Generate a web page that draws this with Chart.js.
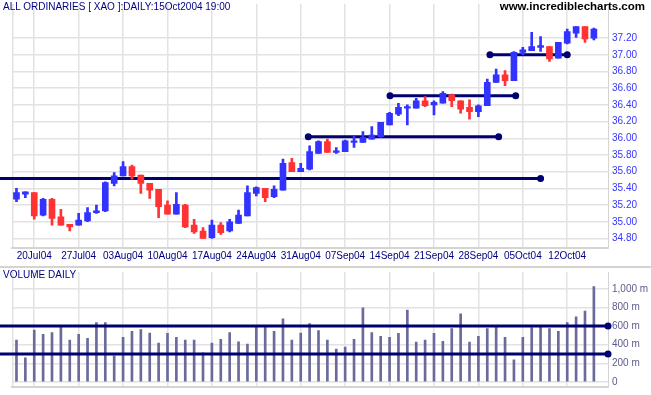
<!DOCTYPE html>
<html>
<head>
<meta charset="utf-8">
<script src="https://cdn.jsdelivr.net/npm/chart.js@4.4.1/dist/chart.umd.min.js"></script>
<style>
  body { margin:0; background:#fff; width:651px; height:395px; overflow:hidden; position:relative; font-family:"Liberation Sans", Arial, sans-serif; }
  #pricebox { position:absolute; left:0; top:0; width:651px; height:266px; }
  #volbox { position:absolute; left:0; top:266px; width:651px; height:127px; border-top:2px solid #d6d3ce; }
  .lbl { position:absolute; font-size:10px; color:#000080; white-space:nowrap; }
</style>
</head>
<body>
<div id="pricebox"><canvas id="price" width="651" height="266"></canvas></div>
<div id="volbox"><canvas id="vol" width="651" height="127"></canvas></div>
<div class="lbl" style="left:3px;top:1px">ALL ORDINARIES [ XAO ]:DAILY:15Oct2004 19:00</div>
<div class="lbl" style="right:6px;top:0px;font-weight:bold;font-size:11.5px;color:#000">www.incrediblecharts.com</div>
<div class="lbl" style="left:3px;top:269px">VOLUME DAILY</div>
<script>
const dates = ['16Jul04',
  '19Jul04','20Jul04','21Jul04','22Jul04','23Jul04',
  '26Jul04','27Jul04','28Jul04','29Jul04','30Jul04',
  '02Aug04','03Aug04','04Aug04','05Aug04','06Aug04',
  '09Aug04','10Aug04','11Aug04','12Aug04','13Aug04',
  '16Aug04','17Aug04','18Aug04','19Aug04','20Aug04',
  '23Aug04','24Aug04','25Aug04','26Aug04','27Aug04',
  '30Aug04','31Aug04','01Sep04','02Sep04','03Sep04',
  '06Sep04','07Sep04','08Sep04','09Sep04','10Sep04',
  '13Sep04','14Sep04','15Sep04','16Sep04','17Sep04',
  '20Sep04','21Sep04','22Sep04','23Sep04','24Sep04',
  '27Sep04','28Sep04','29Sep04','30Sep04','01Oct04',
  '04Oct04','05Oct04','06Oct04','07Oct04','08Oct04',
  '11Oct04','12Oct04','13Oct04','14Oct04','15Oct04']

const open = [35.27, 35.33,35.35,35.08,35.27,35.06, 34.97,34.96,35.01,35.11,35.13,
  35.46,35.55,35.66,35.56,35.46, 35.39,35.20,35.09,35.20,34.96, 34.89,34.81,34.96,34.89,34.98,
  35.07,35.34,35.40,35.30,35.38, 35.71,35.60,35.63,35.82,35.96, 35.83,35.84,35.95,35.95,35.99,
  36.02,36.16,36.29,36.36,36.36, 36.45,36.40,36.42,36.52,36.45, 36.37,36.32,36.39,36.67,36.76,
  36.69,37.03,37.05,37.09,37.10, 36.96,37.14,37.26,37.34,37.20]
const high = [35.40, 35.36,35.35,35.28,35.28,35.15, 34.97,35.10,35.17,35.20,35.48,
  35.59,35.72,35.68,35.56,35.46, 35.39,35.25,35.35,35.21,35.03, 34.93,35.02,34.99,35.03,35.14,
  35.43,35.42,35.40,35.43,35.75, 35.76,35.70,35.91,35.97,35.99, 35.89,35.98,36.03,36.08,36.14,
  36.19,36.31,36.42,36.40,36.48, 36.50,36.45,36.56,36.53,36.45, 36.46,36.40,36.71,36.83,36.81,
  37.04,37.09,37.27,37.22,37.10, 37.15,37.31,37.34,37.34,37.32]
const low = [35.24, 35.29,35.03,35.07,34.96,34.96, 34.89,34.96,35.00,35.10,35.12,
  35.43,35.55,35.51,35.34,35.28, 35.05,35.09,35.09,34.93,34.86, 34.80,34.80,34.85,34.88,34.98,
  35.07,35.31,35.24,35.29,35.38, 35.60,35.60,35.62,35.82,35.83, 35.82,35.84,35.89,35.95,35.99,
  36.01,36.16,36.27,36.16,36.36, 36.38,36.28,36.42,36.38,36.30, 36.23,36.26,36.39,36.67,36.63,
  36.69,37.00,37.05,37.04,36.92, 36.96,37.13,37.21,37.15,37.18]
const close = [35.35, 35.36,35.07,35.27,35.04,34.96, 34.94,35.02,35.11,35.13,35.47,
  35.55,35.66,35.55,35.46,35.38, 35.18,35.09,35.21,34.94,34.88, 34.80,34.96,34.87,35.00,35.08,
  35.35,35.41,35.29,35.39,35.70, 35.60,35.64,35.84,35.96,35.83, 35.85,35.97,35.97,36.01,36.04,
  36.19,36.30,36.37,36.38,36.45, 36.39,36.43,36.54,36.45,36.35, 36.32,36.39,36.67,36.76,36.69,
  37.03,37.06,37.10,37.11,36.95, 37.15,37.28,37.34,37.19,37.31]

// millions
const volume = [448, 259,556,510,531,608, 448,510,468,636,636,
  280,479,542,563,524, 416,521,479,448,448, 311,416,458,531,430,
  406,594,594,542,678, 448,524,626,552,448, 353,374,458,797,531,
  490,479,521,772,427, 448,521,437,573,731, 427,490,573,605,479,
  238,479,584,605,573, 542,636,699,762,1024]

const dateTicks = ['20Jul04','27Jul04','03Aug04','10Aug04','17Aug04','24Aug04','31Aug04',
  '07Sep04','14Sep04','21Sep04','28Sep04','05Oct04','12Oct04']
const priceTicks = [34.8,35.0,35.2,35.4,35.6,35.8,36.0,36.2,36.4,36.6,36.8,37.0,37.2]
const volumeTicks = [0,200,400,600,800,1000]

// horizontal trend lines, start/end in bar index (null = from left edge)
const lineLevels = [35.52, 36.02, 36.51, 37.00]
const lineStart = [null, 32.85, 42.05, 53.3]
const lineEnd = [59.0, 54.28, 56.2, 62.0]
const volLevels = [600, 300]

const NAVY = '#000070'
const X_MIN = -0.47, X_MAX = 66.59
const LEFT = 12.3, AXIS_W = 43
const unit = (651 - AXIS_W - LEFT) / (X_MAX - X_MIN)
const EDGE = X_MIN - LEFT / unit
const idx = dates.map((d, i) => i)
const colors = idx.map(i => close[i] >= open[i] ? '#3333ff' : '#ff3333')
const font = { family: 'Liberation Sans', size: 10 }

const xAxis = (labels, h) => ({
  type: 'linear', min: X_MIN, max: X_MAX, offset: false,
  afterBuildTicks: s => { s.ticks = [{ value: X_MIN }].concat(dateTicks.map(d => ({ value: dates.indexOf(d) }))) },
  afterFit: s => { s.height = h; s.paddingLeft = 0; s.paddingRight = 0 },
  grid: { color: '#e2e2e2', lineWidth: 1.5, drawTicks: false, offset: false },
  border: { color: '#d4d4d4', width: 2 },
  ticks: { display: labels, autoSkip: false, maxRotation: 0, padding: 2, color: '#000080', font,
    callback: v => v === X_MIN ? '' : dates[v] }
})

const yAxis = (min, max, ticks, color, cb) => ({
  position: 'right', min, max,
  afterBuildTicks: s => { s.ticks = ticks.map(v => ({ value: v })) },
  afterFit: s => { s.width = AXIS_W; s.paddingTop = 0; s.paddingBottom = 0 },
  grid: { color: '#e2e2e2', lineWidth: 1.5, drawTicks: false },
  border: { color: '#d4d4d4', width: 1 },
  ticks: { padding: 4, color, font, callback: cb }
})

const hline = (y, x0, x1, dotStart) => ({
  type: 'line', order: 0,
  data: [{ x: x0, y }, { x: x1, y }],
  borderColor: NAVY, borderWidth: 3, fill: false, clip: false,
  pointRadius: [dotStart ? 3.5 : 0, 3.5], pointBackgroundColor: NAVY, pointBorderWidth: 0
})

const common = { responsive: false, animation: false,
  plugins: { legend: { display: false }, tooltip: { enabled: false } } }

new Chart(document.getElementById('price'), {
  type: 'bar',
  data: {
    datasets: [
      { label: 'range', order: 1, grouped: false, barThickness: 2, backgroundColor: colors,
        data: idx.map(i => ({ x: i, y: [low[i], high[i]] })) },
      { label: 'body', order: 1, grouped: false, barThickness: 6, backgroundColor: colors,
        data: idx.map(i => ({ x: i, y: [Math.min(open[i], close[i]), Math.max(open[i], close[i])] })) },
      ...lineLevels.map((lv, k) => Object.assign(hline(lv, lineStart[k] ?? EDGE, lineEnd[k], lineStart[k] !== null), { order: 3 }))
    ]
  },
  options: Object.assign({}, common, {
    layout: { padding: { left: LEFT, top: 0, right: 0, bottom: 0 } },
    scales: {
      x: xAxis(true, 18),
      y: yAxis(34.686, 37.609, priceTicks, '#3535ff', v => v.toFixed(2))
    }
  })
})

new Chart(document.getElementById('vol'), {
  type: 'bar',
  data: {
    datasets: [
      { label: 'volume', order: 2, barThickness: 2, backgroundColor: '#6a6a9c',
        data: idx.map(i => ({ x: i, y: volume[i] })) },
      ...volLevels.map(lv => hline(lv, EDGE, X_MAX, false))
    ]
  },
  options: Object.assign({}, common, {
    layout: { padding: { left: LEFT, top: 1, right: 0, bottom: 0 } },
    scales: {
      x: xAxis(false, 8.3),
      y: yAxis(-52, 1181, volumeTicks, '#5c5c8c', v => v === 0 ? '0' : v.toLocaleString('en-US') + ' m')
    }
  })
})
</script>
</body>
</html>
